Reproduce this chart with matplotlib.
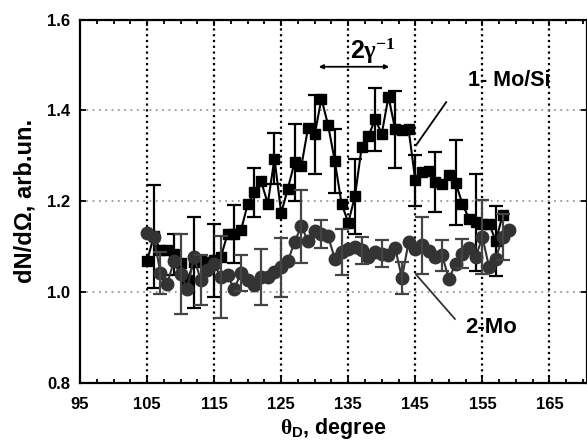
import numpy as np
import matplotlib
matplotlib.use('Agg')
import matplotlib.pyplot as plt

plt.rcParams['font.family'] = ['Liberation Sans', 'DejaVu Sans']
plt.rcParams['font.weight'] = 'bold'
plt.rcParams['mathtext.fontset'] = 'custom'
plt.rcParams['mathtext.rm'] = 'Liberation Serif'
plt.rcParams['mathtext.it'] = 'Liberation Serif:italic'
plt.rcParams['mathtext.bf'] = 'Liberation Sans:bold'

# series 1: Mo/Si (squares)
angle_mosi = list(range(105, 159))
dn_mosi = [1.068, 1.123, 1.093, 1.093, 1.083, 1.063, 1.026, 1.066, 1.070, 1.066,
           1.070, 1.077, 1.128, 1.128, 1.136, 1.193, 1.220, 1.244, 1.195, 1.294,
           1.174, 1.228, 1.286, 1.277, 1.361, 1.347, 1.426, 1.367, 1.288, 1.195,
           1.153, 1.211, 1.319, 1.343, 1.380, 1.349, 1.430, 1.358, 1.356, 1.358,
           1.246, 1.264, 1.266, 1.242, 1.239, 1.257, 1.241, 1.195, 1.162, 1.154,
           1.151, 1.151, 1.112, 1.169]
err_angle_mosi = [106, 109, 112, 115, 118, 121, 124, 127, 130, 133,
                  136, 139, 142, 145, 148, 151, 154, 157]
err_mosi = [0.113, 0.045, 0.100, 0.080, 0.063, 0.054, 0.057, 0.085, 0.087, 0.070,
            0.083, 0.070, 0.085, 0.056, 0.066, 0.094, 0.107, 0.077]

# series 2: Mo (circles)
angle_mo = list(range(105, 160))
dn_mo = [1.130, 1.121, 1.042, 1.018, 1.068, 1.040, 1.007, 1.077, 1.026, 1.048,
         1.062, 1.033, 1.037, 1.007, 1.042, 1.026, 1.015, 1.033, 1.033, 1.044,
         1.055, 1.068, 1.111, 1.145, 1.112, 1.135, 1.128, 1.123, 1.073, 1.088,
         1.096, 1.099, 1.092, 1.077, 1.088, 1.085, 1.081, 1.097, 1.031, 1.110,
         1.095, 1.103, 1.090, 1.077, 1.081, 1.029, 1.062, 1.085, 1.098, 1.077,
         1.121, 1.055, 1.074, 1.121, 1.137]
err_angle_mo = [107, 110, 113, 116, 119, 122, 125, 128, 131, 134,
                137, 140, 143, 146, 149, 152, 155, 158]
err_mo = [0.047, 0.088, 0.055, 0.090, 0.040, 0.062, 0.065, 0.080, 0.030, 0.050,
          0.030, 0.030, 0.035, 0.063, 0.034, 0.033, 0.081, 0.050]

x_ticks = [95, 105, 115, 125, 135, 145, 155, 165]
y_ticks = [0.8, 1.0, 1.2, 1.4, 1.6]

fig = plt.figure(figsize=(5.87, 4.45), dpi=100)
ax = fig.add_axes([80 / 587, 1 - 383 / 445, 507 / 587, 363.5 / 445])

ax.set_xlim(95, 170.6)
ax.set_ylim(0.8, 1.6)

# grid
for xv in x_ticks[1:]:
    ax.axvline(xv, color='black', ls=(0, (1, 1.6)), lw=1.6, zorder=0)
for yv in y_ticks[1:-1]:
    ax.axhline(yv, color='#999999', ls=(0, (1, 2.5)), lw=1.3, zorder=0)

# Mo/Si
ax.plot(angle_mosi, dn_mosi, color='black', lw=1.5, marker='s', ms=6.5, zorder=3)
ax.errorbar(err_angle_mosi, [dn_mosi[angle_mosi.index(a)] for a in err_angle_mosi],
            yerr=err_mosi, fmt='none', ecolor='black', elinewidth=1.6,
            capsize=5, capthick=1.6, zorder=3)

# Mo
ax.plot(angle_mo, dn_mo, color='#333333', lw=1.5, marker='o', ms=9, zorder=4)
ax.errorbar(err_angle_mo, [dn_mo[angle_mo.index(a)] for a in err_angle_mo],
            yerr=err_mo, fmt='none', ecolor='#444444', elinewidth=1.6,
            capsize=5, capthick=1.6, zorder=4)

# annotations
ax.annotate('', xy=(130.6, 1.496), xytext=(141.1, 1.496),
            arrowprops=dict(arrowstyle='<|-|>', color='black', lw=1.3,
                            mutation_scale=6, shrinkA=0, shrinkB=0))
ax.text(135.2, 1.512, r'$\mathbf{2}\mathrm{\gamma}^{-1}$', fontsize=18,
        ha='left', va='baseline')

ax.text(152.9, 1.466, '1- Mo/Si', fontsize=15.5, ha='left', va='center')
ax.plot([145.1, 149.6], [1.323, 1.418], color='black', lw=1.3)

ax.text(152.4, 0.923, '2-Mo', fontsize=16, ha='left', va='center')
ax.plot([145.1, 150.9], [1.039, 0.941], color='#333333', lw=1.3)

ax.set_xticks(x_ticks)
ax.set_yticks(y_ticks)
ax.set_yticklabels(['%.1f' % v for v in y_ticks])
ax.set_xticks(np.arange(95, 171, 2.5), minor=True)
ax.tick_params(which='both', direction='in', top=True, right=True,
               labelsize=12, width=1.3, pad=7)
ax.tick_params(which='major', length=4)
ax.tick_params(which='minor', length=3)
ax.tick_params(axis='x', pad=10)
for lbl in ax.get_xticklabels() + ax.get_yticklabels():
    lbl.set_fontweight('bold')
for sp in ax.spines.values():
    sp.set_linewidth(1.6)

ax.set_xlabel(r'$\mathrm{\theta}_\mathbf{D}$, degree', fontsize=15.5,
              fontweight='bold', labelpad=3)
ax.set_ylabel('dN/dΩ, arb.un.', fontsize=17, fontweight='bold', labelpad=8)

fig.savefig('out.png', dpi=100)
